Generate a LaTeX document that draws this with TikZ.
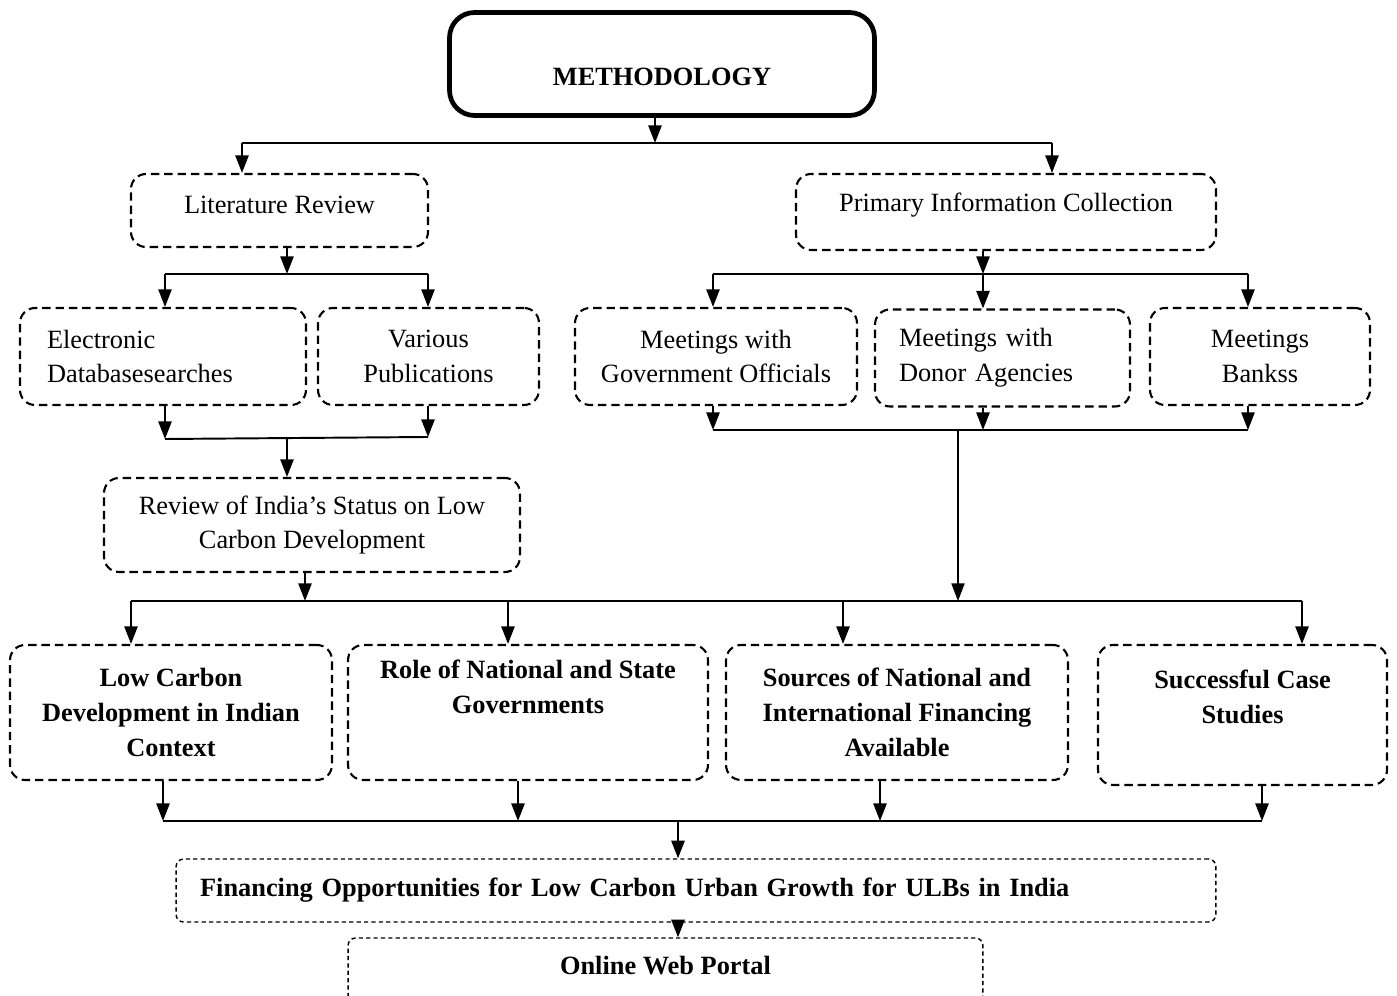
\documentclass[tikz,border=0pt]{standalone}
\usepackage{fontspec}
\setmainfont{Liberation Serif}
\usetikzlibrary{arrows.meta}

\begin{document}
\begin{tikzpicture}[x=0.02cm,y=-0.02cm,
  font=\fontsize{15}{19.8}\selectfont,
  arr/.style={line width=1.1pt,-{Triangle[length=10pt,width=7.5pt]}},
  conn/.style={line width=1.1pt},
  dbox/.style={draw,line width=1.2pt,dash pattern=on 4.8pt off 2.8pt,rounded corners=0.3cm,align=center},
  fbox/.style={draw,line width=0.8pt,dash pattern=on 2.4pt off 1.8pt,rounded corners=0.15cm,font=\fontsize{15}{19.8}\selectfont\bfseries}]
  \useasboundingbox (0,0) rectangle (1397,996);
  \clip (0,0) rectangle (1397,996);

  \node[draw,line width=2.7pt,rounded corners=0.5cm,minimum width=8.5cm,minimum height=2.06cm,
        label={[yshift=-0.26cm,font=\fontsize{15}{19.8}\selectfont\bfseries]center:METHODOLOGY}]
        (meth) at (662,64) {};

  \node[dbox,minimum width=5.94cm,minimum height=1.46cm,
        label={[yshift=0.12cm]center:Literature Review}] (lit) at (279.5,210.5) {};
  \node[dbox,minimum width=8.4cm,minimum height=1.52cm,
        label={[yshift=0.14cm]center:Primary Information Collection}] (prim) at (1006,212) {};

  \node[dbox,minimum width=5.72cm,minimum height=1.94cm,inner xsep=0.54cm,text width=4.64cm,align=left]
        (elec) at (163,356.5) {Electronic\\Databasesearches};
  \node[dbox,minimum width=4.42cm,minimum height=1.94cm] (pub) at (428.5,356.5) {Various\\Publications};
  \node[dbox,minimum width=5.64cm,minimum height=1.94cm] (gov) at (716,356.5) {Meetings with\\Government Officials};
  \node[dbox,minimum width=5.1cm,minimum height=1.94cm,inner xsep=0.48cm,text width=4.14cm,align=left]
        (donor) at (1002.5,358) {Meetings with\\Donor Agencies};
  \node[dbox,minimum width=4.4cm,minimum height=1.94cm] (banks) at (1260,356.5) {Meetings\\Bankss};

  \node[dbox,minimum width=8.32cm,minimum height=1.88cm] (rev) at (312,525) {Review of India's Status on Low\\Carbon Development};

  \begin{scope}[every node/.append style={font=\fontsize{15}{19.8}\selectfont\bfseries}]
    \node[dbox,minimum width=6.44cm,minimum height=2.7cm] (low) at (171,712.5) {Low Carbon\\Development in Indian\\Context};
    \node[dbox,minimum width=7.2cm,minimum height=2.7cm,
          label={[yshift=0.52cm,align=center]center:{Role of National and State\\Governments}}] (role) at (528,712.5) {};
    \node[dbox,minimum width=6.84cm,minimum height=2.7cm] (src) at (897,712.5) {Sources of National and\\International Financing\\Available};
    \node[dbox,minimum width=5.78cm,minimum height=2.8cm,
          label={[yshift=0.37cm,align=center]center:{Successful Case\\Studies}}] (succ) at (1242.5,715) {};
  \end{scope}

  \node[fbox,minimum width=20.8cm,minimum height=1.26cm,inner xsep=0.48cm,text width=19.84cm,align=left]
        (fin) at (696,890.5) {Financing Opportunities for Low Carbon Urban Growth for ULBs in India};
  \node[fbox,minimum width=12.7cm,minimum height=1.6cm,
        label={[yshift=0.24cm,font=\fontsize{15}{19.8}\selectfont\bfseries]center:Online Web Portal}]
        (web) at (665.5,978) {};

  % top split
  \coordinate (m) at (655,143);
  \coordinate (ml) at (242,143);
  \coordinate (mr) at (1052,143);
  \draw[arr] (meth.south -| m) -- (m);
  \draw[conn] (ml) -- (mr);
  \draw[arr] (ml) -- (lit.north -| ml);
  \draw[arr] (mr) -- (prim.north -| mr);

  % literature review
  \coordinate (l) at (287,274);
  \coordinate (ll) at (165,274);
  \coordinate (lr) at (428,274);
  \draw[arr] (lit.south -| l) -- (l);
  \draw[conn] (ll) -- (lr);
  \draw[arr] (ll) -- (elec.north -| ll);
  \draw[arr] (lr) -- (pub.north -| lr);
  \coordinate (el) at (165,439);
  \coordinate (er) at (428,437);
  \coordinate (e) at (287,438);
  \draw[arr] (elec.south -| el) -- (el);
  \draw[arr] (pub.south -| er) -- (er);
  \draw[conn] (el) -- (er);
  \draw[arr] (e) -- (rev.north -| e);

  % primary information
  \coordinate (p) at (983,274);
  \coordinate (pl) at (713,274);
  \coordinate (pr) at (1248,274);
  \draw[arr] (prim.south -| p) -- (p);
  \draw[conn] (pl) -- (pr);
  \draw[arr] (pl) -- (gov.north -| pl);
  \draw[arr] (p) -- (donor.north -| p);
  \draw[arr] (pr) -- (banks.north -| pr);
  \coordinate (gl) at (713,430);
  \coordinate (gm) at (983,430);
  \coordinate (gr) at (1248,430);
  \draw[arr] (gov.south -| gl) -- (gl);
  \draw[arr] (donor.south -| gm) -- (gm);
  \draw[arr] (banks.south -| gr) -- (gr);
  \draw[line width=1.4pt] (gl) -- (gr);

  % four topics
  \coordinate (r) at (305,601);
  \coordinate (rl) at (131,601);
  \coordinate (rr) at (1302,601);
  \coordinate (g) at (958,601);
  \draw[arr] (rev.south -| r) -- (r);
  \draw[arr,line width=0.7pt] (gl -| g) -- (g);
  \draw[conn] (rl) -- (rr);
  \draw[arr] (rl) -- (low.north -| rl);
  \draw[arr] (rl -| 508,0) -- (role.north -| 508,0);
  \draw[arr] (rl -| 843,0) -- (src.north -| 843,0);
  \draw[arr] (rr) -- (succ.north -| rr);

  % bottom
  \coordinate (bl) at (163,821);
  \coordinate (br) at (1262,821);
  \coordinate (b) at (678,821);
  \draw[arr] (low.south -| bl) -- (bl);
  \draw[arr] (role.south -| 518,0) -- (bl -| 518,0);
  \draw[arr] (src.south -| 880,0) -- (bl -| 880,0);
  \draw[arr] (succ.south -| br) -- (br);
  \draw[conn] (bl) -- (br);
  \draw[arr] (b) -- (fin.north -| b);
  \draw[arr] (fin.south -| b) -- (web.north -| b);
\end{tikzpicture}
\end{document}
